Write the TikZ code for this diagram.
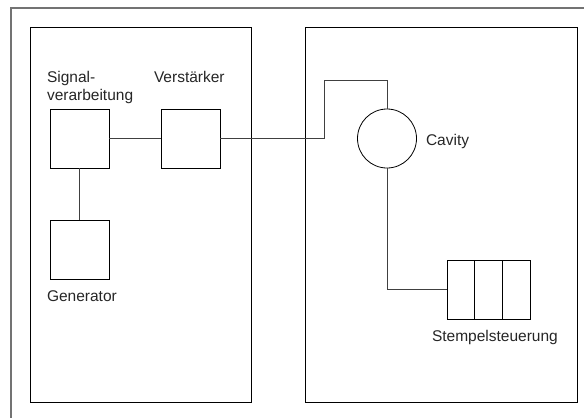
\documentclass[tikz,border=0pt]{standalone}
\usepackage{fontspec}
\setmainfont{Liberation Sans}
\usetikzlibrary{calc}
\begin{document}
\begin{tikzpicture}[x=1bp, y=-1bp,
  every node/.style={inner sep=0pt, outer sep=0pt},
  unit/.style={draw=black, line width=0.8bp, minimum width=59bp, minimum height=59bp},
  housing/.style={draw=black, line width=0.8bp},
  wire/.style={draw=black!75, line width=0.9bp},
  label/.style={anchor=base west, font=\fontsize{15.5bp}{18.5bp}\selectfont, text=black!85}]
  \useasboundingbox (0,0) rectangle (584,417);
  % drawing frame (runs off the sheet at right and bottom)
  \draw[black!55, line width=1.2bp] (11,420) -- (11,8) -- (590,8);
  % two housings
  \draw[housing] (30,27) rectangle (251,402);
  \draw[housing] (305,27) rectangle (577,402);
  % blocks
  \node[unit] (sig) at (79.5,138.5) {};
  \node[unit] (amp) at (190.5,138.5) {};
  \node[unit] (gen) at (79.5,249.5) {};
  \node[unit, circle, minimum size=59bp] (cav) at (387,138.5) {};
  \node[unit, minimum width=83bp] (pist) at (488.5,289.5) {};
  \draw[line width=0.8bp] ($(pist.north west)!1/3!(pist.north east)$) -- ($(pist.south west)!1/3!(pist.south east)$);
  \draw[line width=0.8bp] ($(pist.north west)!2/3!(pist.north east)$) -- ($(pist.south west)!2/3!(pist.south east)$);
  % labels
  \node[label] (sigA) at (47,82) {Signal-};
  \node[label] (sigB) at (47,100.5) {verarbeitung};
  \node[label] (ampL) at (154,82) {Verstärker};
  \node[label] (genL) at (47,301.5) {Generator};
  \node[label] (cavL) at (426,145.5) {Cavity};
  \node[label] (pistL) at (432,341) {Stempelsteuerung};
  % wiring
  \coordinate (bend) at (324,80);
  \draw[wire] (sig.east) -- (amp.west);
  \draw[wire] (sig.south) -- (gen.north);
  \draw[wire] (amp.east) -| (bend) -| (cav.north);
  \draw[wire] (cav.south) |- (pist.west);
\end{tikzpicture}
\end{document}
